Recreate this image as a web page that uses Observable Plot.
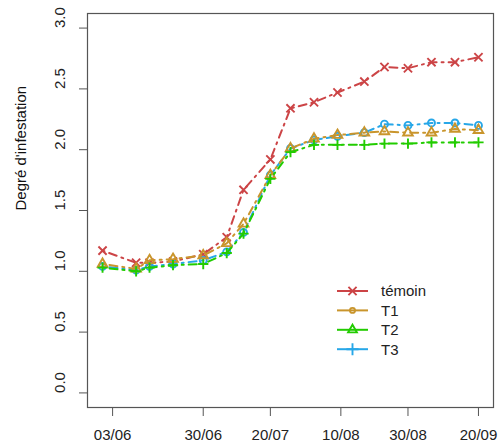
<!DOCTYPE html>
<html>
<head>
<meta charset="utf-8">
<script src="https://cdn.jsdelivr.net/npm/d3@7"></script>
<script src="https://cdn.jsdelivr.net/npm/@observablehq/plot@0.6"></script>
<style>
  body { margin: 0; background: #fff; }
  #wrap { position: relative; width: 498px; height: 445px; font-family: "Liberation Sans", Arial, sans-serif; }
  #legend { position: absolute; left: 0; top: 0; }
</style>
</head>
<body>
<div id="wrap"></div>
<script>
// ---- data ----
const dates = ["2021-05-31","2021-06-10","2021-06-14","2021-06-21","2021-06-30","2021-07-07","2021-07-12","2021-07-20","2021-07-26","2021-08-02","2021-08-09","2021-08-17","2021-08-23","2021-08-30","2021-09-06","2021-09-13","2021-09-20"];
const temoin = [1.17,1.07,1.07,1.08,1.14,1.28,1.67,1.92,2.34,2.39,2.47,2.56,2.68,2.67,2.72,2.72,2.76];
const T1 = [1.06,1.02,1.09,1.10,1.13,1.23,1.39,1.79,2.01,2.09,2.12,2.14,2.15,2.14,2.14,2.17,2.16];
const T2 = [1.03,1.00,1.03,1.05,1.06,1.15,1.31,1.76,1.98,2.04,2.04,2.04,2.05,2.05,2.06,2.06,2.06];
const T3 = [1.04,1.01,1.04,1.06,1.09,1.16,1.32,1.79,2.01,2.08,2.11,2.14,2.21,2.20,2.22,2.22,2.20];
const xTickLabels = ["2021-06-03","2021-06-30","2021-07-20","2021-08-10","2021-08-30","2021-09-20"];
const yTicks = [0, 0.5, 1, 1.5, 2, 2.5, 3];
const legendLabels = ["témoin", "T1", "T2", "T3"];

const colors = { temoin: "#CC4446", T1: "#C9952C", T2: "#22CC00", T3: "#27A7E8" };

const parse = d3.utcParse("%Y-%m-%d");
const dd = dates.map(parse);
const rows = (vals) => vals.map((v, i) => ({ date: dd[i], v }));
const sT = rows(temoin), s1 = rows(T1), s2 = rows(T2), s3 = rows(T3);

const day = 864e5;
const ext = (dd[dd.length - 1] - dd[0]) * 0.04;
const xDomain = [new Date(+dd[0] - ext), new Date(+dd[dd.length - 1] + ext)];
const yDomain = [-0.12, 3.12];

const dash = "2,5,8,5";
const lw = 2;

function series(data, color, symbol, r) {
  return [
    Plot.line(data, { x: "date", y: "v", stroke: color, strokeWidth: lw, strokeDasharray: dash }),
    Plot.dot(data, { x: "date", y: "v", stroke: color, fill: "none", symbol, r, strokeWidth: 1.9 })
  ];
}

const chart = Plot.plot({
  width: 498,
  height: 445,
  marginLeft: 87,
  marginRight: 5,
  marginTop: 13,
  marginBottom: 38,
  style: { fontFamily: '"Liberation Sans", Arial, sans-serif', fontSize: "15px", color: "#222", background: "#fff" },
  x: { type: "utc", domain: xDomain },
  y: { domain: yDomain },
  marks: [
    Plot.axisX({ ticks: xTickLabels.map(parse), tickFormat: d3.utcFormat("%d/%m"), tickSize: 9, tickPadding: 13, fontSize: 15, stroke: "#555", label: null }),
    Plot.axisY({ ticks: yTicks, tickSize: 8, tickFormat: () => "", stroke: "#555", label: null }),
    Plot.text(yTicks, { y: d => d, text: d => d.toFixed(1), frameAnchor: "left", dx: -27, rotate: -90, fontSize: 15, fill: "#222" }),
    Plot.text(["Degré d'infestation"], { frameAnchor: "left", dx: -66, rotate: -90, fontSize: 15, fill: "#111" }),
    Plot.frame({ stroke: "#555", strokeWidth: 1.2 }),
    ...series(sT, colors.temoin, "times", 3.8),
    ...series(s3, colors.T3, "circle", 3.5),
    ...series(s1, colors.T1, "triangle2", 4.6),
    ...series(s2, colors.T2, "plus", 3.4)
  ]
});

const wrap = document.getElementById("wrap");
wrap.appendChild(chart);

// ---- legend (as drawn in the reference) ----
const legendSym = [
  { label: legendLabels[0], color: colors.temoin, sym: d3.symbolTimes, size: 45 },
  { label: legendLabels[1], color: colors.T1, sym: d3.symbolCircle, size: 20 },
  { label: legendLabels[2], color: colors.T2, sym: d3.symbolTriangle2, size: 55 },
  { label: legendLabels[3], color: colors.T3, sym: d3.symbolPlus, size: 50 }
];
const svg = d3.select(wrap).append("svg")
  .attr("id", "legend").attr("width", 498).attr("height", 445)
  .style("font-family", '"Liberation Sans", Arial, sans-serif').style("font-size", "15px");
const g = svg.selectAll("g").data(legendSym).join("g")
  .attr("transform", (d, i) => `translate(0,${291 + i * 19.4})`);
g.append("line").attr("x1", 337).attr("x2", 368).attr("y1", 0).attr("y2", 0)
  .attr("stroke", d => d.color).attr("stroke-width", 2);
g.append("path").attr("transform", "translate(352.5,0)")
  .attr("d", d => d3.symbol(d.sym, d.size)()).attr("fill", "none")
  .attr("stroke", d => d.color).attr("stroke-width", 1.9);
g.append("text").attr("x", 381).attr("y", 0).attr("dy", "0.36em").attr("fill", "#222").text(d => d.label);
</script>
</body>
</html>
